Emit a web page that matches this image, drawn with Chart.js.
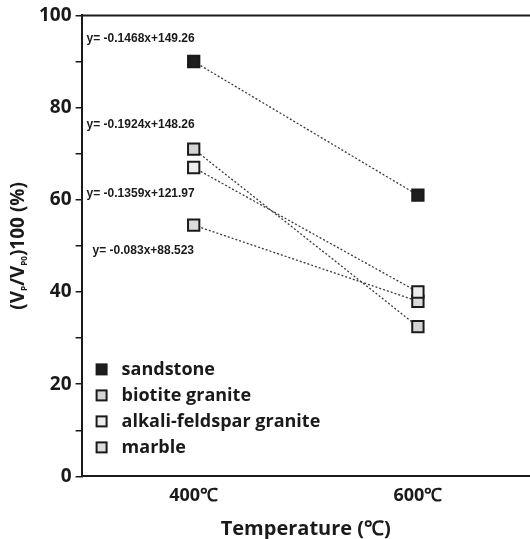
<!DOCTYPE html>
<html>
<head>
<meta charset="utf-8">
<script src="https://cdn.jsdelivr.net/npm/chart.js@4/dist/chart.umd.min.js"></script>
<style>
  html, body { margin: 0; padding: 0; background: #fff; overflow: hidden; }
</style>
</head>
<body>
<canvas id="chart" width="530" height="539"></canvas>
<script>
// data
var categories = ['400℃', '600℃'];
var sandstone = [90, 61];
var biotiteGranite = [71, 32.5];
var alkaliFeldsparGranite = [67, 40];
var marble = [54.5, 38];

var seriesNames = ['sandstone', 'biotite granite', 'alkali-feldspar granite', 'marble'];
var fitLabels = ['y= -0.1468x+149.26', 'y= -0.1924x+148.26', 'y= -0.1359x+121.97', 'y= -0.083x+88.523'];
var fitLabelAt = [95, 76.3, 61.3, 49]; // y value where each equation sits

var yTicks = [0, 20, 40, 60, 80, 100];

var ink = '#1a1a1a';
var fills = ['#1e1e1e', '#d4d4d4', '#ececec', '#dcdcdc'];

function makeSet(name, values, i) {
    return {
        label: name,
        data: values,
        borderColor: '#3a3a3a',
        borderWidth: 1.3,
        borderDash: [2, 2],
        pointStyle: 'rect',
        pointRadius: 8,
        pointHoverRadius: 8,
        pointBackgroundColor: fills[i],
        pointBorderColor: ink,
        pointBorderWidth: 2,
        fill: false,
        tension: 0
    };
}

// legend, equations, top frame line and y title with subscripts
var extras = {
    id: 'extras',
    afterDraw: function(chart) {
        var ctx = chart.ctx;
        var area = chart.chartArea;
        var y = chart.scales.y;
        ctx.save();

        // top frame line
        ctx.strokeStyle = ink;
        ctx.lineWidth = 2;
        ctx.beginPath();
        ctx.moveTo(area.left, area.top);
        ctx.lineTo(chart.width, area.top);
        ctx.stroke();

        // fit equations
        ctx.fillStyle = ink;
        ctx.font = 'bold 12px "Liberation Sans"';
        ctx.textAlign = 'left';
        ctx.textBaseline = 'middle';
        for (var i = 0; i < fitLabels.length; i++) {
            var dx = i == 3 ? 11 : 5;
            ctx.fillText(fitLabels[i], area.left + dx, y.getPixelForValue(fitLabelAt[i]));
        }

        // legend inside plot
        ctx.font = 'bold 18px "Open Sans"';
        for (var k = 0; k < seriesNames.length; k++) {
            var cy = area.bottom - 107 + k * 26;
            ctx.fillStyle = fills[k];
            ctx.strokeStyle = ink;
            ctx.lineWidth = 2;
            ctx.fillRect(area.left + 15, cy - 5, 10, 10);
            ctx.strokeRect(area.left + 15, cy - 5, 10, 10);
            ctx.fillStyle = ink;
            ctx.fillText(seriesNames[k], area.left + 40, cy);
        }

        // y axis title (Vp/Vp0)100 (%)
        var parts = [['(V', 19], ['P', 8], ['/V', 19], ['P0', 8], [')100 (%)', 19]];
        ctx.translate(19, (area.top + area.bottom) / 2);
        ctx.rotate(-Math.PI / 2);
        var total = 0;
        parts.forEach(function(p) {
            ctx.font = 'bold ' + p[1] + 'px "Open Sans"';
            total += ctx.measureText(p[0]).width;
        });
        var x = -total / 2;
        ctx.textAlign = 'left';
        parts.forEach(function(p) {
            ctx.font = 'bold ' + p[1] + 'px "Open Sans"';
            ctx.fillText(p[0], x, p[1] < 12 ? 6 : 0);
            x += ctx.measureText(p[0]).width;
        });
        ctx.restore();
    }
};

var ctx = document.getElementById('chart').getContext('2d');
var chart = new Chart(ctx, {
    type: 'line',
    data: {
        labels: categories,
        datasets: [
            makeSet(seriesNames[0], sandstone, 0),
            makeSet(seriesNames[1], biotiteGranite, 1),
            makeSet(seriesNames[2], alkaliFeldsparGranite, 2),
            makeSet(seriesNames[3], marble, 3)
        ]
    },
    options: {
        responsive: false,
        animation: false,
        layout: { autoPadding: false, padding: { left: 35, top: 9, right: 0, bottom: 0 } },
        plugins: {
            legend: { display: false },
            tooltip: { enabled: false }
        },
        scales: {
            x: {
                offset: true,
                // invisible ticks just push the labels down
                grid: { display: true, drawOnChartArea: false, drawTicks: true, tickLength: 9, color: 'rgba(0,0,0,0)' },
                border: { color: ink, width: 2 },
                ticks: {
                    color: ink,
                    padding: 0,
                    font: { family: 'Open Sans', size: 18, weight: 'bold' }
                },
                title: {
                    display: true,
                    text: 'Temperature (℃)',
                    color: ink,
                    padding: { top: 12, bottom: 0 },
                    font: { family: 'Open Sans', size: 20, weight: 'bold', lineHeight: 1 }
                }
            },
            y: {
                min: 0,
                max: 100,
                grid: { drawOnChartArea: false, tickLength: 6, color: ink, lineWidth: 1.5 },
                border: { color: ink, width: 2 },
                ticks: {
                    stepSize: 10,
                    padding: 4,
                    color: ink,
                    font: { family: 'Open Sans', size: 19, weight: 'bold' },
                    callback: function(v) { return yTicks.indexOf(v) >= 0 ? v : ''; }
                }
            }
        }
    },
    plugins: [extras]
});
</script>
</body>
</html>
